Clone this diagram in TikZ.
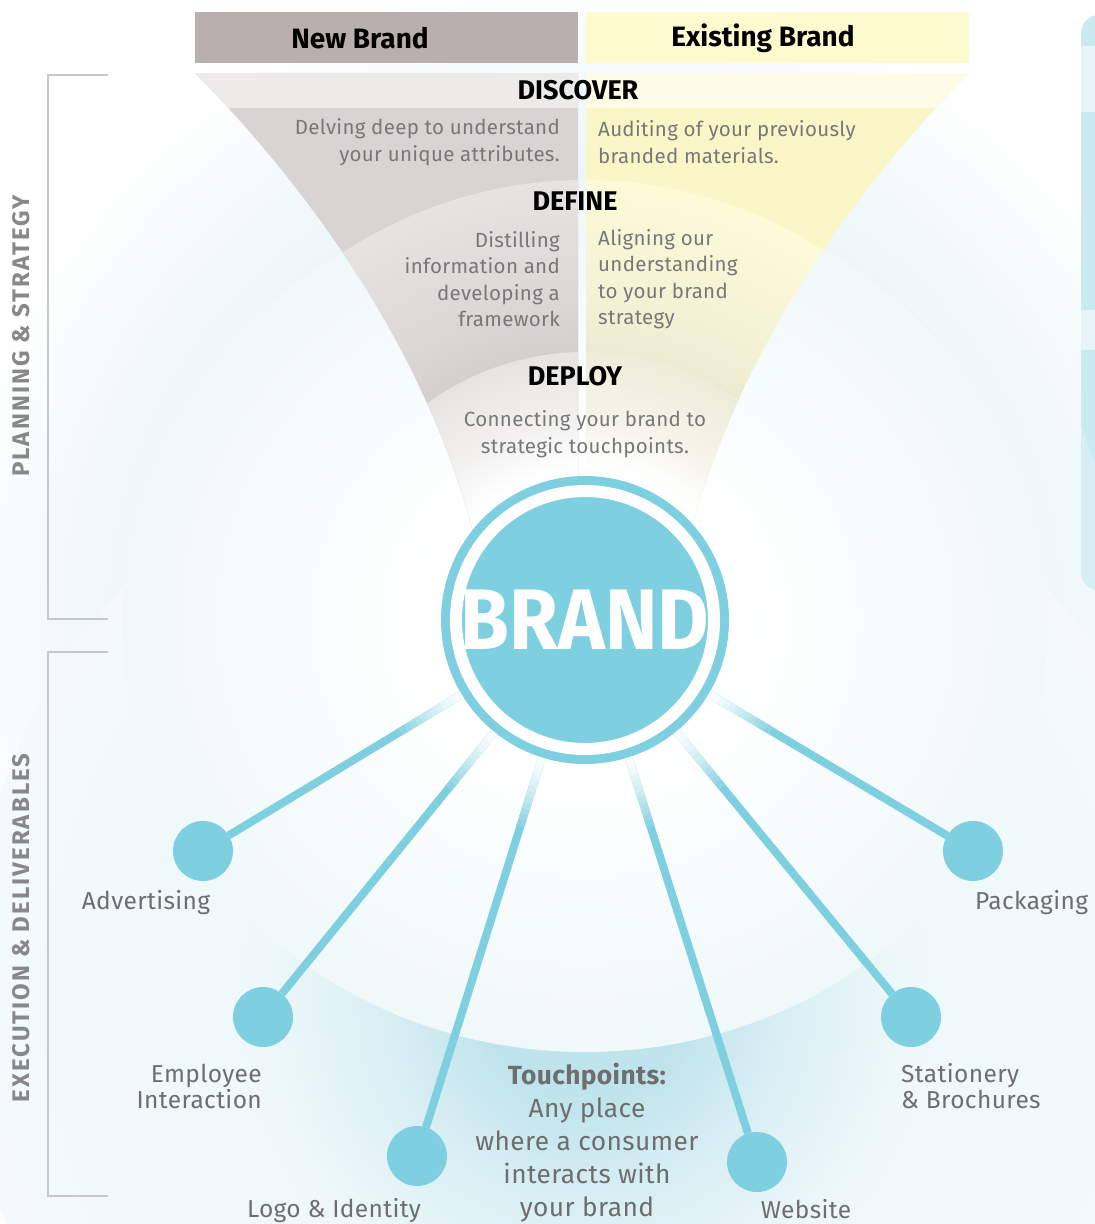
\documentclass[tikz,border=0pt]{standalone}
\usepackage{fontspec}
\usepackage{graphicx}
\setmainfont{Fira Sans}
\newfontfamily\bodyfont[LetterSpace=1.5]{Fira Sans}
\newfontfamily\capsfont[LetterSpace=8.5]{Fira Sans}
\usetikzlibrary{calc}

\definecolor{brandblue}{HTML}{7ECFE0}
\definecolor{hdrgray}{HTML}{B9AFAE}
\definecolor{hdryellow}{HTML}{FEFBD1}
\definecolor{gtop}{HTML}{EDEBEA}
\definecolor{gdisc}{HTML}{D8D4D3}
\definecolor{ytop}{HTML}{FEFCE6}
\definecolor{ydisc}{HTML}{FBF6C8}
\definecolor{txtgray}{HTML}{787878}
\definecolor{labgray}{HTML}{6E6E6E}
\definecolor{vgray}{HTML}{888888}
\definecolor{panelblue}{HTML}{CAEAF1}
\definecolor{panellight}{HTML}{E7F5F8}
\definecolor{panelmid}{HTML}{D6EEF3}
\definecolor{bracketgray}{HTML}{C8C8C8}
\definecolor{bgA}{HTML}{F4FAFB}
\definecolor{bgB}{HTML}{EDF6F9}
\definecolor{glowA}{HTML}{BFE4EC}
\definecolor{glowB}{HTML}{D9EFF4}
\definecolor{glowC}{HTML}{EEF8FA}
\definecolor{diskA}{HTML}{F8FCFD}
\definecolor{diskB}{HTML}{F0F8FA}
\definecolor{defLa}{HTML}{D3CFCE}
\definecolor{defLb}{HTML}{DAD7D6}
\definecolor{defLc}{HTML}{E6E3E2}
\definecolor{depLa}{HTML}{F2F1F0}
\definecolor{depLb}{HTML}{E6E4E2}
\definecolor{defRa}{HTML}{ECEBD2}
\definecolor{defRb}{HTML}{F4F2D5}
\definecolor{defRc}{HTML}{FDFAD8}
\definecolor{depRa}{HTML}{F5F4E9}
\definecolor{depRb}{HTML}{EEEDDA}

% radial shadings: 25bp corresponds to the radius of the shaded path
\pgfdeclareradialshading{bgglow}{\pgfpoint{0bp}{0bp}}{color(0bp)=(white); color(5.4bp)=(white); color(10.8bp)=(bgA); color(16.9bp)=(bgB); color(20.8bp)=(bgA); color(25bp)=(white); color(50bp)=(white)}
\pgfdeclareradialshading{bottomglow}{\pgfpoint{0bp}{0bp}}{color(0bp)=(glowA); color(4bp)=(glowA); color(8.1bp)=(glowB); color(12.9bp)=(glowC); color(25bp)=(bgA); color(50bp)=(bgA)}
\pgfdeclareradialshading{innerdisk}{\pgfpoint{0bp}{0bp}}{color(0bp)=(white); color(8.7bp)=(white); color(15.9bp)=(diskA); color(25bp)=(diskB); color(50bp)=(diskB)}
\pgfdeclareradialshading{defineL}{\pgfpoint{0bp}{0bp}}{color(0bp)=(defLa); color(15.2bp)=(defLa); color(18.2bp)=(defLb); color(25bp)=(defLc); color(50bp)=(defLc)}
\pgfdeclareradialshading{deployL}{\pgfpoint{0bp}{0bp}}{color(0bp)=(white); color(14bp)=(white); color(18.7bp)=(depLa); color(25bp)=(depLb); color(50bp)=(depLb)}
\pgfdeclareradialshading{defineR}{\pgfpoint{0bp}{0bp}}{color(0bp)=(defRa); color(15.2bp)=(defRa); color(18.2bp)=(defRb); color(25bp)=(defRc); color(50bp)=(defRc)}
\pgfdeclareradialshading{deployR}{\pgfpoint{0bp}{0bp}}{color(0bp)=(white); color(14bp)=(white); color(18.7bp)=(depRa); color(25bp)=(depRb); color(50bp)=(depRb)}

\begin{document}
\begin{tikzpicture}[x=1pt,y=-1pt,
  hdrbox/.style={minimum width=383, minimum height=51, inner sep=0, outer sep=0},
  hdrtxt/.style={inner sep=0, font=\bfseries\fontsize{28}{28}\selectfont, text=black},
  stagetitle/.style={inner sep=0, font=\bfseries\fontsize{27}{27}\selectfont, text=black},
  bodytxt/.style={inner sep=0, text=txtgray, font=\bodyfont\fontsize{20.5}{26.5}\selectfont},
  labeltxt/.style={inner sep=0, text=labgray, font=\bodyfont\fontsize{24.5}{26}\selectfont},
  vlab/.style={inner sep=0, rotate=90, text=vgray, font=\capsfont\bfseries\fontsize{24}{24}\selectfont},
  bracketline/.style={draw=bracketgray, line width=2},
  dot/.style={circle, fill=brandblue, minimum size=60, inner sep=0, outer sep=0},
  spoke/.style={draw=brandblue, line width=8},
  brandnode/.style={circle, fill=brandblue, minimum size=288, inner sep=0, outer sep=0, text=white,
    font=\bfseries\fontsize{86}{86}\selectfont,
    path picture={\draw[white, line width=12] (path picture bounding box.center) circle (129);}}
]
\useasboundingbox (0,0) rectangle (1095,1224);
\fill[white] (0,0) rectangle (1095,1224);

% background glows
\shade[shading=bgglow] (585,620) circle (650);
\shade[shading=bottomglow] (585,1000) circle (620);
\shade[shading=innerdisk] (585,620) ellipse [x radius=463, y radius=432];

% funnel left half
\begin{scope}
  \clip (195,73) .. controls (330,210) and (440,380) .. (480,560) -- (480,640) -- (578,640) -- (578,73) -- cycle;
  \fill[gdisc] (150,60) rectangle (600,640);
  \fill[gtop] (150,73) rectangle (600,108);
  \shade[shading=defineL] (585,620) circle (440);
  \shade[shading=deployL] (585,620) circle (268);
\end{scope}
% funnel right half
\begin{scope}
  \clip (969,73) .. controls (834,210) and (724,380) .. (684,560) -- (684,640) -- (586,640) -- (586,73) -- cycle;
  \fill[ydisc] (570,60) rectangle (1000,640);
  \fill[ytop] (570,73) rectangle (1000,108);
  \shade[shading=defineR] (585,620) circle (440);
  \shade[shading=deployR] (585,620) circle (268);
\end{scope}

% right edge panel
\begin{scope}
  \clip[rounded corners=18] (1081,15) rectangle (1130,590);
  \fill[panelblue] (1081,15) rectangle (1130,590);
  \fill[panellight] (1081,46) rectangle (1130,112);
  \fill[panellight] (1081,310) rectangle (1130,350);
  \fill[panelmid] (1081,426) -- (1130,560) -- (1130,600) -- (1081,600) -- cycle;
\end{scope}

% header boxes
\node[hdrbox, fill=hdrgray] (hnew) at (386.5,37.5) {};
\node[hdrbox, fill=hdryellow] (hexist) at (777.5,37.5) {};
\node[hdrtxt] (hnewt) at (360,38) {New Brand};
\node[hdrtxt] (hexistt) at (763,38) {Existing Brand};

% brackets
\draw[bracketline] (108,75) -- (48,75) -- (48,619) -- (108,619);
\draw[bracketline] (108,652) -- (48,652) -- (48,1196) -- (108,1196);
\node[vlab] (vplan) at (21,336) {PLANNING \& STRATEGY};
\node[vlab] (vexec) at (21,928) {EXECUTION \& DELIVERABLES};

% stage titles and texts
\node[stagetitle] (tdisc) at (578,90) {DISCOVER};
\node[stagetitle] (tdef) at (575,201) {DEFINE};
\node[stagetitle] (tdep) at (575,376) {DEPLOY};
\node[bodytxt, align=right, anchor=east] (discL) at (560,142) {Delving deep to understand\\your unique attributes.};
\node[bodytxt, align=left, anchor=west] (discR) at (598,142) {Auditing of your previously\\branded materials.};
\node[bodytxt, align=right, anchor=east] (defL) at (560,279) {Distilling\\information and\\developing a\\framework};
\node[bodytxt, align=left, anchor=west] (defR) at (598,279) {Aligning our\\understanding\\to your brand\\strategy};
\node[bodytxt, align=center] (depT) at (585,434) {Connecting your brand to\\strategic touchpoints.};

% brand and touchpoint nodes
\node[brandnode] (brand) at (585,620) {\scalebox{0.92}[1]{BRAND}};
\node[dot] (adv) at (203,851) {};
\node[dot] (emp) at (263,1017) {};
\node[dot] (logo) at (417,1156) {};
\node[dot] (web) at (757,1162) {};
\node[dot] (stat) at (911,1017) {};
\node[dot] (pack) at (973,851) {};

\foreach \n in {adv,emp,logo,web,stat,pack}{
  \draw[spoke] (brand) -- (\n);
  \foreach \i in {0,...,11}{
    \pgfmathsetmacro\da{144+\i*6}
    \pgfmathsetmacro\db{150.6+\i*6}
    \pgfmathsetmacro\p{int(4+96*(\i/12)^1.3)}
    \draw[line width=8, draw=brandblue!\p!white] ($(brand.center)!\da pt!(\n.center)$) -- ($(brand.center)!\db pt!(\n.center)$);
  }
}

% labels
\node[labeltxt] (ladv) at (146,903) {Advertising};
\node[labeltxt, anchor=west] (lpack) at (975,903) {Packaging};
\node[labeltxt, align=right, anchor=east] (lemp) at (262,1086) {Employee\\Interaction};
\node[labeltxt, align=left, anchor=west] (lstat) at (901,1086) {Stationery\\\& Brochures};
\node[labeltxt] (llogo) at (334,1211) {Logo \& Identity};
\node[labeltxt] (lweb) at (806,1209) {Website};
\node[inner sep=0, text=labgray, align=center, font=\bodyfont\fontsize{26.3}{33}\selectfont] (touch) at (587,1143) {{\bfseries Touchpoints:}\\Any place\\where a consumer\\interacts with\\your brand};
\end{tikzpicture}
\end{document}
